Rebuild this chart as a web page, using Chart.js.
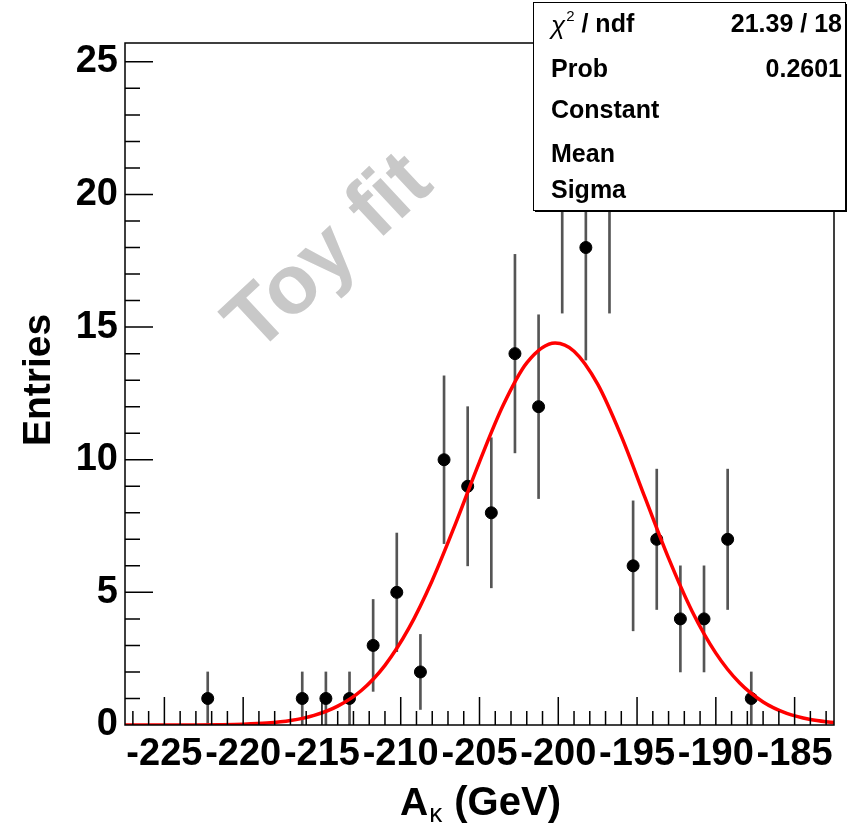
<!DOCTYPE html>
<html>
<head>
<meta charset="utf-8">
<script src="https://cdn.jsdelivr.net/npm/chart.js@4/dist/chart.umd.min.js"></script>
<style>
  body { margin: 0; background: #fff; }
  canvas { display: block; }
</style>
</head>
<body>
<canvas id="fit-chart" width="850" height="832"></canvas>
<script>
// histogram bins (bin centres, bin width 1.5 GeV) with non-zero content
var binX = [-222.25, -216.25, -214.75, -213.25, -211.75, -210.25, -208.75, -207.25,
  -205.75, -204.25, -202.75, -201.25, -199.75, -198.25, -196.75, -195.25,
  -193.75, -192.25, -190.75, -189.25, -187.75];
var counts = [1, 1, 1, 1, 3, 5, 2, 10, 9, 8, 14, 12, 20, 18, 20, 6, 7, 4, 4, 7, 1];

// gaussian fit curve
var fitX = [-227.5, -226, -224.5, -223, -221.5, -220, -218.5, -217, -215.5, -214,
  -212.5, -211, -209.5, -208, -206.5, -205, -203.5, -202, -200.2, -199,
  -197.5, -196, -194.5, -193, -191.5, -190, -188.5, -187, -185.5, -184, -182.5];
var fitY = [0.0, 0.0005, 0.0013, 0.004, 0.012, 0.03, 0.073, 0.167, 0.36, 0.71,
  1.3, 2.25, 3.63, 5.45, 7.62, 9.92, 12.05, 13.65, 14.4, 14.09,
  12.85, 10.89, 8.58, 6.29, 4.28, 2.71, 1.59, 0.87, 0.44, 0.21, 0.09];

var xTicks = [-225, -220, -215, -210, -205, -200, -195, -190, -185];
var yTicks = [0, 5, 10, 15, 20, 25];

var statsRows = [
  ["χ", " / ndf", "21.39 / 18"],
  ["", "Prob", "0.2601"],
  ["", "Constant", ""],
  ["", "Mean", ""],
  ["", "Sigma", ""],
];

var FONT = "'Liberation Sans', Arial, Helvetica, sans-serif";

var points = binX.map(function (x, i) { return { x: x, y: counts[i] }; });
var errBars = binX.map(function (x, i) {
  var e = Math.sqrt(counts[i]);
  return { x: x, y: [counts[i] - e, counts[i] + e] };
});
var curve = fitX.map(function (x, i) { return { x: x, y: fitY[i] }; });

var rootFrame = {
  id: "rootFrame",
  beforeDatasetsDraw: function (chart) {
    var ctx = chart.ctx;
    // watermark
    ctx.save();
    ctx.translate(330, 254);
    ctx.rotate(-43 * Math.PI / 180);
    ctx.fillStyle = "#c8c8c8";
    ctx.font = "bold 84px " + FONT;
    ctx.textAlign = "center";
    ctx.textBaseline = "middle";
    ctx.fillText("Toy fit", 0, 0);
    ctx.restore();
  },
  afterDraw: function (chart) {
    var ctx = chart.ctx;
    var a = chart.chartArea;
    var xs = chart.scales.x, ys = chart.scales.y;
    ctx.save();
    ctx.strokeStyle = "#000";
    ctx.lineWidth = 1.5;
    ctx.strokeRect(a.left, a.top, a.right - a.left, a.bottom - a.top);

    // ticks inside the frame
    ctx.beginPath();
    for (var v = -227; v <= -183; v++) {
      var px = xs.getPixelForValue(v);
      var len = (v % 5 === 0) ? 28 : 14;
      ctx.moveTo(px, a.bottom);
      ctx.lineTo(px, a.bottom - len);
    }
    for (var w = 1; w <= 25; w++) {
      var py = ys.getPixelForValue(w);
      var l2 = (w % 5 === 0) ? 28 : 15;
      ctx.moveTo(a.left, py);
      ctx.lineTo(a.left + l2, py);
    }
    ctx.stroke();

    // axis titles
    ctx.fillStyle = "#000";
    ctx.font = "bold 39px " + FONT;
    ctx.textBaseline = "alphabetic";
    ctx.save();
    ctx.translate(50, 380);
    ctx.rotate(-Math.PI / 2);
    ctx.textAlign = "center";
    ctx.fillText("Entries", 0, 0);
    ctx.restore();

    ctx.textAlign = "left";
    var x0 = 400, base = 815;
    ctx.fillText("A", x0, base);
    var wA = ctx.measureText("A").width;
    ctx.font = "26px " + FONT;
    ctx.fillText("κ", x0 + wA + 1, base + 7);
    var wK = ctx.measureText("κ").width;
    ctx.font = "bold 40px " + FONT;
    ctx.fillText(" (GeV)", x0 + wA + wK + 2, base);

    // stats box
    var bx = 533, by = 2, bw = 312, bh = 208;
    ctx.fillStyle = "#000";
    ctx.fillRect(bx + 2, by + 2, bw, bh);
    ctx.fillStyle = "#fff";
    ctx.fillRect(bx, by, bw, bh);
    ctx.strokeStyle = "#000";
    ctx.lineWidth = 1;
    ctx.strokeRect(bx + 0.5, by + 0.5, bw, bh);

    var baselines = [32, 77, 118, 162, 198];
    ctx.fillStyle = "#000";
    statsRows.forEach(function (r, i) {
      var tx = 551;
      ctx.textAlign = "left";
      if (r[0]) {
        ctx.font = "italic 26px " + FONT;
        ctx.fillText(r[0], tx, baselines[i] + 2);
        tx += ctx.measureText(r[0]).width + 1;
        ctx.font = "15px " + FONT;
        ctx.fillText("2", tx, baselines[i] - 11);
        tx += ctx.measureText("2").width;
      }
      ctx.font = "bold 25px " + FONT;
      ctx.fillText(r[1], tx, baselines[i]);
      ctx.textAlign = "right";
      ctx.fillText(r[2], 842, baselines[i]);
    });
    ctx.restore();
  },
};

var config = {
  type: "scatter",
  data: {
    datasets: [
      {
        type: "line",
        label: "fit",
        data: curve,
        borderColor: "#ff0000",
        borderWidth: 3.5,
        pointRadius: 0,
        fill: false,
        tension: 0.4,
        cubicInterpolationMode: "monotone",
        order: 0,
      },
      {
        type: "scatter",
        label: "entries",
        data: points,
        backgroundColor: "#000",
        borderColor: "#000",
        pointRadius: 6,
        order: 1,
      },
      {
        type: "bar",
        label: "errors",
        data: errBars,
        backgroundColor: "#555",
        barThickness: 2,
        order: 2,
      },
    ],
  },
  options: {
    responsive: false,
    animation: false,
    layout: { padding: { left: 0, right: 16, top: 43, bottom: 0 } },
    plugins: {
      legend: { display: false },
      tooltip: { enabled: false },
    },
    scales: {
      x: {
        type: "linear",
        min: -227.5,
        max: -182.5,
        offset: false,
        grid: { display: false, drawTicks: false },
        border: { display: false },
        afterBuildTicks: function (scale) {
          scale.ticks = xTicks.map(function (v) { return { value: v }; });
        },
        afterFit: function (scale) { scale.height = 832 - 725; },
        ticks: {
          autoSkip: false,
          maxRotation: 0,
          minRotation: 0,
          padding: 7,
          color: "#000",
          font: { family: FONT, size: 38, weight: "bold" },
        },
      },
      y: {
        min: 0,
        max: 25.71,
        grid: { display: false, drawTicks: false },
        border: { display: false },
        afterBuildTicks: function (scale) {
          scale.ticks = yTicks.map(function (v) { return { value: v }; });
        },
        afterFit: function (scale) { scale.width = 125; },
        ticks: {
          padding: 7,
          color: "#000",
          font: { family: FONT, size: 38, weight: "bold" },
        },
      },
    },
  },
  plugins: [rootFrame],
};

var ctxOne = document.getElementById("fit-chart").getContext("2d");
new Chart(ctxOne, config);
</script>
</body>
</html>
